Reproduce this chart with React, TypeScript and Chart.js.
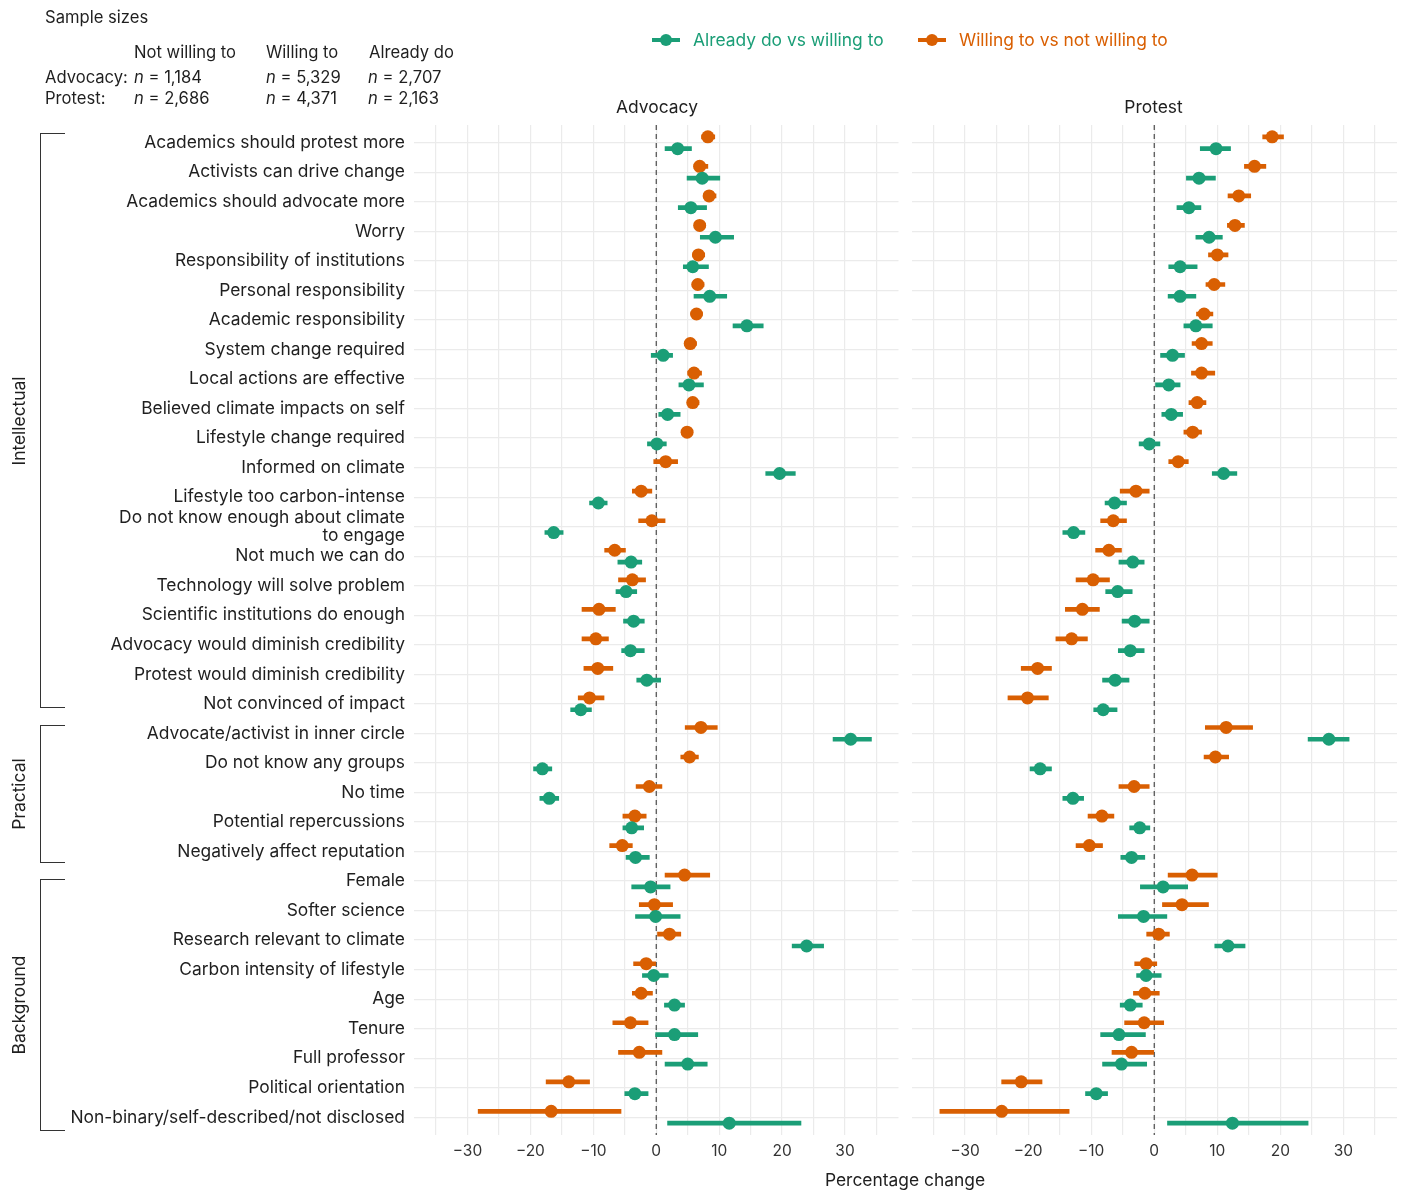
import React, { useEffect, useRef } from 'react';
import { Chart, registerables } from 'chart.js';
Chart.register(...registerables);

const FONT = 'Inter, "Noto Sans", sans-serif';
const GREEN = '#1b9e77';
const ORANGE = '#d95f02';
const TEXT = '#1f1f1f';
const GRID = '#ebebeb';
const FS = 17.4;

const categories = [
  'Academics should protest more', 'Activists can drive change', 'Academics should advocate more', 'Worry',
  'Responsibility of institutions', 'Personal responsibility', 'Academic responsibility', 'System change required',
  'Local actions are effective', 'Believed climate impacts on self', 'Lifestyle change required', 'Informed on climate',
  'Lifestyle too carbon-intense', 'Do not know enough about climate\nto engage', 'Not much we can do',
  'Technology will solve problem', 'Scientific institutions do enough', 'Advocacy would diminish credibility',
  'Protest would diminish credibility', 'Not convinced of impact', 'Advocate/activist in inner circle',
  'Do not know any groups', 'No time', 'Potential repercussions', 'Negatively affect reputation', 'Female',
  'Softer science', 'Research relevant to climate', 'Carbon intensity of lifestyle', 'Age', 'Tenure',
  'Full professor', 'Political orientation', 'Non-binary/self-described/not disclosed',
];

const xTicks = [-35, -30, -25, -20, -15, -10, -5, 0, 5, 10, 15, 20, 25, 30, 35];

// Advocacy: already do vs willing to (green)
const advGreen = [3.4, 7.3, 5.5, 9.4, 5.8, 8.5, 14.4, 1.1, 5.2, 1.8, 0.1, 19.6, -9.2, -16.3, -4.0, -4.8, -3.6, -4.1, -1.5, -12.0, 30.9, -18.1, -17.0, -3.9, -3.3, -0.9, -0.1, 23.9, -0.4, 2.9, 2.9, 5.0, -3.4, 11.6];
const advGreenLo = [1.4, 4.9, 3.5, 7.0, 4.3, 6.0, 12.2, -0.8, 3.6, 0.4, -1.4, 17.4, -10.6, -17.7, -6.1, -6.4, -5.2, -5.5, -3.1, -13.6, 28.1, -19.5, -18.5, -5.3, -4.8, -3.9, -3.3, 21.6, -2.2, 1.3, -0.1, 1.4, -5.0, 1.8];
const advGreenHi = [5.6, 10.1, 8.0, 12.3, 8.3, 11.2, 17.0, 2.6, 7.5, 3.8, 1.6, 22.1, -7.8, -14.8, -2.3, -3.1, -1.9, -1.9, 0.7, -10.3, 34.2, -16.6, -15.5, -2.0, -1.1, 2.2, 3.8, 26.6, 1.9, 4.5, 6.6, 8.1, -1.3, 23.0];
// Advocacy: willing to vs not willing to (orange)
const advOrange = [8.2, 6.9, 8.4, 6.9, 6.7, 6.6, 6.4, 5.4, 6.0, 5.8, 4.9, 1.5, -2.4, -0.7, -6.6, -3.8, -9.1, -9.6, -9.3, -10.6, 7.1, 5.3, -1.1, -3.4, -5.4, 4.5, -0.3, 2.1, -1.6, -2.4, -4.1, -2.7, -13.9, -16.7];
const advOrangeLo = [7.2, 6.0, 7.5, 6.2, 5.8, 5.7, 5.6, 4.5, 5.0, 5.1, 4.1, -0.4, -3.8, -2.8, -8.2, -6.0, -11.8, -11.8, -11.5, -12.4, 4.6, 3.9, -3.2, -5.3, -7.4, 1.4, -2.7, 0.2, -3.6, -3.8, -6.9, -6.0, -17.5, -28.3];
const advOrangeHi = [9.3, 8.2, 9.5, 7.8, 7.7, 7.6, 7.3, 6.4, 7.2, 6.8, 5.8, 3.4, -0.7, 1.4, -4.9, -1.7, -6.5, -7.6, -6.9, -8.3, 9.7, 6.7, 0.9, -1.6, -3.8, 8.5, 2.6, 3.9, 0.0, -0.6, -1.3, 0.9, -10.6, -5.6];
// Protest: already do vs willing to (green)
const proGreen = [9.8, 7.1, 5.5, 8.7, 4.1, 4.1, 6.6, 2.9, 2.3, 2.7, -0.8, 11.0, -6.3, -12.8, -3.4, -5.8, -3.1, -3.8, -6.2, -8.1, 27.7, -18.1, -12.9, -2.3, -3.6, 1.4, -1.7, 11.7, -1.3, -3.8, -5.6, -5.2, -9.2, 12.4];
const proGreenLo = [7.3, 5.1, 3.6, 6.6, 2.3, 2.2, 4.7, 1.0, 0.2, 1.2, -2.4, 9.2, -7.8, -14.5, -5.6, -7.7, -5.1, -5.7, -8.2, -9.6, 24.4, -19.7, -14.5, -3.9, -5.3, -2.2, -5.7, 9.6, -2.8, -5.4, -8.5, -8.2, -10.9, 2.1];
const proGreenHi = [12.1, 9.7, 7.4, 10.8, 6.8, 6.6, 9.2, 4.8, 4.1, 4.5, 0.9, 13.1, -4.4, -11.0, -1.6, -3.5, -0.8, -1.6, -4.0, -5.9, 30.9, -16.3, -11.2, -0.7, -1.5, 5.3, 2.0, 14.4, 1.1, -1.9, -1.4, -1.2, -7.4, 24.4];
// Protest: willing to vs not willing to (orange)
const proOrange = [18.7, 15.9, 13.4, 12.8, 10.0, 9.5, 7.9, 7.5, 7.5, 6.8, 6.1, 3.8, -2.9, -6.5, -7.2, -9.7, -11.4, -13.1, -18.5, -20.1, 11.4, 9.7, -3.2, -8.3, -10.3, 6.0, 4.4, 0.7, -1.3, -1.5, -1.6, -3.6, -21.1, -24.2];
const proOrangeLo = [17.2, 14.3, 11.7, 11.6, 8.6, 8.2, 6.7, 6.0, 5.9, 5.5, 4.7, 2.3, -5.4, -8.5, -9.3, -12.4, -14.1, -15.6, -21.1, -23.2, 8.1, 7.9, -5.6, -10.5, -12.4, 2.2, 1.3, -1.2, -3.1, -3.3, -4.7, -6.7, -24.2, -34.0];
const proOrangeHi = [20.5, 17.7, 15.3, 14.3, 11.7, 11.2, 9.3, 9.2, 9.6, 8.2, 7.5, 5.4, -0.8, -4.4, -5.2, -7.1, -8.7, -10.6, -16.3, -16.8, 15.6, 11.8, -0.8, -6.4, -8.2, 10.0, 8.6, 2.4, 0.4, 0.8, 1.5, 0.0, -17.8, -13.5];

const groups = [
  { name: 'Intellectual', top: 133, bottom: 708 },
  { name: 'Practical', top: 725, bottom: 863 },
  { name: 'Background', top: 879, bottom: 1131 },
];

const fmtTick = (v: number) => (v % 10 !== 0 ? '' : v < 0 ? '\u2212' + Math.abs(v) : String(v));

type PanelProps = {
  left: number; width: number; yWidth: number; padRight: number; showLabels: boolean;
  g: number[]; gLo: number[]; gHi: number[]; o: number[]; oLo: number[]; oHi: number[];
};

function Panel(p: PanelProps) {
  const ref = useRef<HTMLCanvasElement>(null);
  useEffect(() => {
    const rows = categories.map((_, i) => i);
    const chart = new Chart(ref.current as HTMLCanvasElement, {
      type: 'scatter',
      data: {
        datasets: [
          { type: 'line', data: [{ x: 0, y: -0.6 }, { x: 0, y: 33.6 }], borderColor: '#4a4a4a', borderWidth: 1.2, borderDash: [5, 4], pointRadius: 0, order: 10 } as any,
          { type: 'bar', indexAxis: 'y', data: rows.map(i => ({ y: i + 0.2, x: [p.gLo[i], p.gHi[i]] })), backgroundColor: GREEN, barThickness: 4, grouped: false, order: 5 } as any,
          { type: 'bar', indexAxis: 'y', data: rows.map(i => ({ y: i - 0.2, x: [p.oLo[i], p.oHi[i]] })), backgroundColor: ORANGE, barThickness: 4, grouped: false, order: 5 } as any,
          { type: 'scatter', data: rows.map(i => ({ x: p.g[i], y: i + 0.2 })), backgroundColor: GREEN, pointRadius: 6.5, borderWidth: 0, order: 1 } as any,
          { type: 'scatter', data: rows.map(i => ({ x: p.o[i], y: i - 0.2 })), backgroundColor: ORANGE, pointRadius: 6.5, borderWidth: 0, order: 1 } as any,
        ],
      },
      options: {
        animation: false,
        responsive: false,
        layout: { padding: { left: 0, right: p.padRight, top: 125, bottom: 0 } },
        plugins: { legend: { display: false }, tooltip: { enabled: false } },
        scales: {
          x: {
            type: 'linear', min: -38.5, max: 38.5, offset: false,
            afterBuildTicks: (s: any) => { s.ticks = xTicks.map(v => ({ value: v })); },
            afterFit: (s: any) => { s.height = 55; },
            ticks: { callback: (v: any) => fmtTick(Number(v)), autoSkip: false, maxRotation: 0, padding: 7, color: '#333', font: { family: FONT, size: 15.5 } },
            grid: { color: GRID, lineWidth: 1.2, drawTicks: false, offset: false },
            border: { display: false },
          },
          y: {
            type: 'linear', min: -0.6, max: 33.6, reverse: true, offset: false,
            afterBuildTicks: (s: any) => { s.ticks = rows.map(v => ({ value: v })); },
            afterFit: (s: any) => { s.width = p.yWidth; },
            ticks: {
              display: p.showLabels, autoSkip: false, padding: 9, color: TEXT,
              font: { family: FONT, size: FS, lineHeight: 1.05 },
              callback: (v: any) => { const t = categories[Number(v)] || ''; return t.includes('\n') ? t.split('\n') : t; },
            },
            grid: { color: GRID, lineWidth: 1.2, drawTicks: false, offset: false },
            border: { display: false },
          },
        },
      } as any,
    });
    return () => chart.destroy();
  }, []);
  return <canvas ref={ref} width={p.width} height={1190} style={{ position: 'absolute', left: p.left, top: 0 }} />;
}

const txt = (s: React.CSSProperties): React.CSSProperties => ({ position: 'absolute', whiteSpace: 'nowrap', fontSize: FS, lineHeight: '20px', color: TEXT, ...s });
const hdr = (s: React.CSSProperties): React.CSSProperties => txt({ fontSize: 16.6, ...s });

function LegendItem({ x, color, label }: { x: number; color: string; label: string }) {
  return (
    <>
      <div style={{ position: 'absolute', left: x, top: 38, width: 28, height: 4, background: color }} />
      <div style={{ position: 'absolute', left: x + 8, top: 34, width: 12, height: 12, borderRadius: 6, background: color }} />
      <div style={txt({ left: x + 41, top: 30, color })}>{label}</div>
    </>
  );
}

export default function App() {
  const I = ({ children }: { children: React.ReactNode }) => <i>{children}</i>;
  return (
    <div style={{ position: 'absolute', left: 0, top: 0, width: 1405, height: 1190, background: '#fff', fontFamily: FONT, overflow: 'hidden' }}>
      <Panel left={0} width={905} yWidth={414} padRight={5} showLabels={true}
        g={advGreen} gLo={advGreenLo} gHi={advGreenHi} o={advOrange} oLo={advOrangeLo} oHi={advOrangeHi} />
      <Panel left={905} width={500} yWidth={5} padRight={8} showLabels={false}
        g={proGreen} gLo={proGreenLo} gHi={proGreenHi} o={proOrange} oLo={proOrangeLo} oHi={proOrangeHi} />

      <div style={hdr({ left: 45, top: 7 })}>Sample sizes</div>
      <div style={hdr({ left: 134, top: 42 })}>Not willing to</div>
      <div style={hdr({ left: 266, top: 42 })}>Willing to</div>
      <div style={hdr({ left: 369, top: 42 })}>Already do</div>
      <div style={hdr({ left: 45, top: 67 })}>Advocacy:</div>
      <div style={hdr({ left: 134, top: 67 })}><I>n</I> = 1,184</div>
      <div style={hdr({ left: 266, top: 67 })}><I>n</I> = 5,329</div>
      <div style={hdr({ left: 368, top: 67 })}><I>n</I> = 2,707</div>
      <div style={hdr({ left: 45, top: 88 })}>Protest:</div>
      <div style={hdr({ left: 134, top: 88 })}><I>n</I> = 2,686</div>
      <div style={hdr({ left: 266, top: 88 })}><I>n</I> = 4,371</div>
      <div style={hdr({ left: 368, top: 88 })}><I>n</I> = 2,163</div>

      <LegendItem x={652} color={GREEN} label="Already do vs willing to" />
      <LegendItem x={918} color={ORANGE} label="Willing to vs not willing to" />

      <div style={txt({ left: 657, top: 97, transform: 'translateX(-50%)' })}>Advocacy</div>
      <div style={txt({ left: 1153.5, top: 97, transform: 'translateX(-50%)' })}>Protest</div>
      <div style={txt({ left: 905, top: 1170, transform: 'translateX(-50%)' })}>Percentage change</div>

      {groups.map(g => (
        <React.Fragment key={g.name}>
          <div style={{ position: 'absolute', left: 40, top: g.top, width: 25, height: g.bottom - g.top, borderLeft: '1px solid #333', borderTop: '1px solid #333', borderBottom: '1px solid #333', boxSizing: 'border-box' }} />
          <div style={txt({ left: 19, top: (g.top + g.bottom) / 2, transform: 'translate(-50%, -50%) rotate(-90deg)' })}>{g.name}</div>
        </React.Fragment>
      ))}
    </div>
  );
}
